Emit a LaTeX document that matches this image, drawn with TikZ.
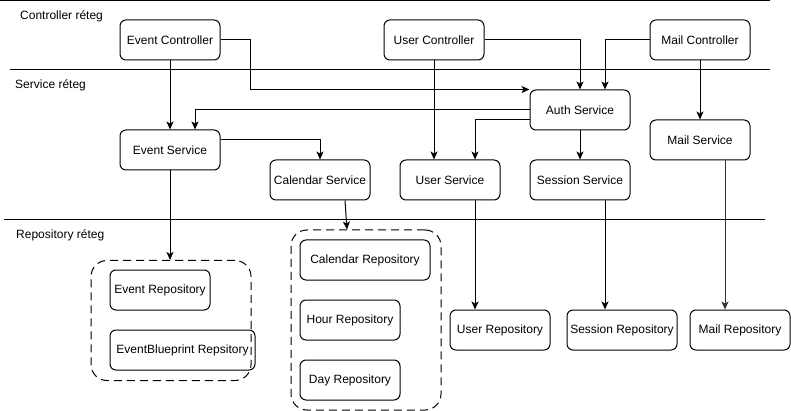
\documentclass[tikz,border=0pt]{standalone}
\usepackage{fontspec}
\setmainfont{Liberation Sans}
\usetikzlibrary{arrows.meta}
\definecolor{vonal}{HTML}{000000}
\definecolor{szurke}{HTML}{333333}

\begin{document}
\begin{tikzpicture}[x=1pt,y=-1pt,
    doboz/.style={draw=vonal,line width=1pt,rounded corners=6pt,minimum width=100pt,minimum height=40pt,inner sep=0pt,font=\fontsize{12}{14}\selectfont},
    csoport/.style={draw=vonal,line width=1pt,dashed,dash pattern=on 8pt off 5pt,rounded corners=16pt,inner sep=0pt},
    reteg/.style={anchor=west,inner sep=0pt,font=\fontsize{12}{14}\selectfont},
    nyil/.style={draw=vonal,line width=1pt,-{Stealth[length=8pt,width=7pt,inset=2pt]}}]
          \useasboundingbox (0,0) rectangle (791,411);
          \draw[line width=1pt] (0,0.5) -- (770,0.5);
          \draw[line width=1pt] (10,70) -- (770,70);
          \draw[line width=1pt] (4,220) -- (765,220);
          \node[reteg] (lcontr) at (20,16) {Controller réteg};
          \node[reteg] (lserv) at (15,85) {Service réteg};
          \node[reteg] (lrepo) at (16,235) {Repository réteg};
          \node[doboz] (evc) at (170,40) {Event Controller};
          \node[doboz] (usc) at (434,40) {User Controller};
          \node[doboz] (mlc) at (700,40) {Mail Controller};
          \node[doboz] (auth) at (580,110) {Auth Service};
          \node[doboz] (evs) at (170,150) {Event Service};
          \node[doboz] (cas) at (320,180) {Calendar Service};
          \node[doboz] (uss) at (450,180) {User Service};
          \node[doboz] (ses) at (580,180) {Session Service};
          \node[doboz] (mls) at (700,140) {Mail Service};
          \node[csoport,minimum width=160pt,minimum height=120pt] (grpev) at (171,320.5) {};
          \node[csoport,minimum width=150pt,minimum height=180pt] (grpcal) at (366,320) {};
          \node[doboz] (evr) at (160,290) {Event Repository};
          \node[doboz,minimum width=145pt] (ebr) at (182.5,350) {EventBlueprint Repsitory};
          \node[doboz,minimum width=130pt] (car) at (365,260) {Calendar Repository};
          \node[doboz] (hor) at (350,320) {Hour Repository};
          \node[doboz] (dar) at (350,380) {Day Repository};
          \node[doboz] (usr) at (500,330) {User Repository};
          \node[doboz,minimum width=110pt] (sesr) at (622,330) {Session Repository};
          \node[doboz] (mlr) at (740,330) {Mail Repository};
          \draw[nyil] (evc.south) -- (evs.north);
          \draw[nyil] (evc.east) -- ++(30,0) |- (auth.north west);
          \draw[nyil] (auth.west) -| ([xshift=25pt]evs.north);
          \draw[nyil] (usc.east) -| (auth.north);
          \draw[nyil] (mlc.west) -| ([xshift=25pt]auth.north);
          \draw[nyil] (usc.south) -- (usc.south |- uss.north);
          \draw[nyil] ([yshift=-10pt]auth.west) -| ([xshift=25pt]uss.north);
          \draw[nyil] (auth.south) -- (ses.north);
          \draw[nyil] (mlc.south) -- (mls.north);
          \draw[nyil] ([yshift=10pt]evs.east) -| (cas.north);
          \draw[nyil] (evs.south) -- (evs.south |- grpev.north);
          \draw[nyil] ([xshift=25pt]cas.south) -- ([xshift=-19pt]grpcal.north);
          \draw[nyil] ([xshift=25pt]uss.south) -- ([xshift=25pt]uss.south |- usr.north);
          \draw[nyil] ([xshift=25pt]ses.south) -- ([xshift=25pt]ses.south |- sesr.north);
          \draw[nyil,draw=szurke] ([xshift=25pt]mls.south) -- ([xshift=25pt]mls.south |- mlr.north);
        \end{tikzpicture}
\end{document}
